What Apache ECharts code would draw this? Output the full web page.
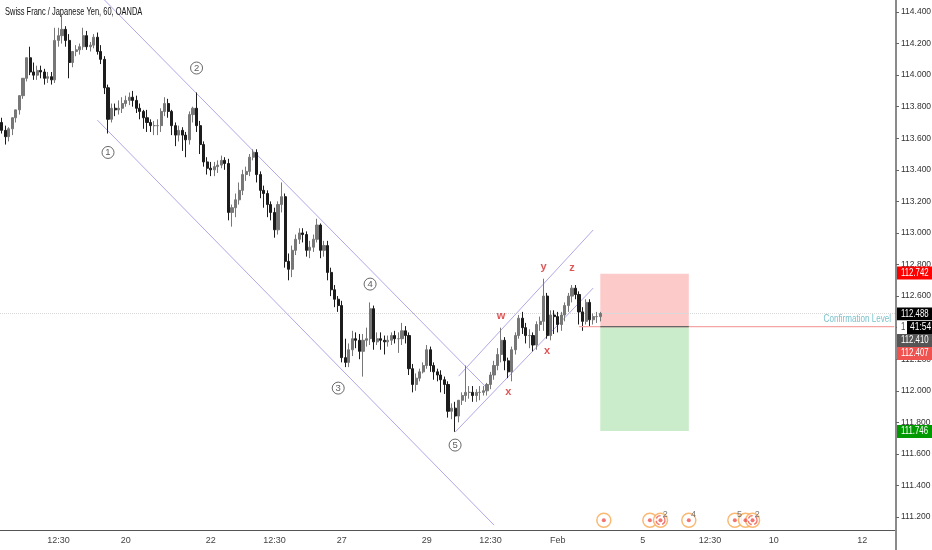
<!DOCTYPE html>
<html><head><meta charset="utf-8">
<style>html,body{margin:0;padding:0;background:#fff}#c{width:932px;height:550px}</style>
<script src="https://cdn.jsdelivr.net/npm/echarts@6/dist/echarts.min.js"></script>
</head><body><div id="c"></div>
<script>
const opens=[113.70,113.65,113.61,113.66,113.73,113.78,113.87,113.98,114.11,114.02,
114.00,114.03,114.02,113.98,113.99,113.97,114.22,114.25,114.29,114.22,
114.08,114.15,114.16,114.18,114.25,114.18,114.19,114.24,114.15,114.10,
113.92,113.72,113.79,113.78,113.79,113.82,113.84,113.86,113.84,113.79,
113.77,113.73,113.70,113.68,113.68,113.68,113.77,113.82,113.77,113.68,
113.62,113.65,113.62,113.59,113.75,113.79,113.68,113.56,113.45,113.41,
113.40,113.42,113.43,113.46,113.44,113.13,113.16,113.21,113.27,113.37,
113.39,113.48,113.51,113.37,113.27,113.25,113.18,113.13,113.02,113.18,
113.23,112.82,112.77,112.89,112.96,113.00,112.99,112.89,112.91,112.96,
113.05,112.89,112.92,112.75,112.64,112.58,112.54,112.21,112.18,112.26,
112.33,112.32,112.25,112.32,112.33,112.52,112.31,112.33,112.32,112.31,
112.32,112.35,112.33,112.33,112.38,112.35,112.14,112.04,112.08,112.12,
112.16,112.26,112.16,112.12,112.10,112.07,112.04,111.87,111.89,111.84,
111.94,111.97,111.99,111.99,111.97,111.99,111.99,112.00,112.04,112.10,
112.16,112.23,112.32,112.19,112.12,112.26,112.35,112.46,112.40,112.35,
112.35,112.29,112.42,112.44,112.60,112.35,112.48,112.47,112.42,112.48,
112.54,112.60,112.65,112.61,112.50,112.44,112.56,112.45,112.47,112.47];
const closes=[113.65,113.61,113.66,113.73,113.78,113.87,113.98,114.11,114.02,114.00,
114.03,114.02,113.98,113.99,113.97,114.22,114.25,114.29,114.22,114.08,
114.15,114.16,114.18,114.25,114.18,114.19,114.24,114.15,114.10,113.92,
113.72,113.79,113.78,113.79,113.82,113.84,113.86,113.84,113.79,113.77,
113.73,113.70,113.68,113.68,113.68,113.77,113.82,113.77,113.68,113.62,
113.65,113.62,113.59,113.75,113.79,113.68,113.56,113.45,113.41,113.40,
113.42,113.43,113.46,113.44,113.13,113.16,113.21,113.27,113.37,113.39,
113.48,113.51,113.37,113.27,113.25,113.18,113.13,113.02,113.18,113.23,
112.82,112.77,112.89,112.96,113.00,112.99,112.89,112.91,112.96,113.05,
112.89,112.92,112.75,112.64,112.58,112.54,112.21,112.18,112.26,112.33,
112.32,112.25,112.32,112.33,112.52,112.31,112.33,112.32,112.31,112.32,
112.35,112.33,112.33,112.38,112.35,112.14,112.04,112.08,112.12,112.16,
112.26,112.16,112.12,112.10,112.07,112.04,111.87,111.89,111.84,111.94,
111.97,111.99,111.99,111.97,111.99,111.99,112.00,112.04,112.10,112.16,
112.23,112.32,112.19,112.12,112.26,112.35,112.46,112.40,112.35,112.35,
112.29,112.42,112.44,112.60,112.35,112.48,112.47,112.42,112.48,112.54,
112.60,112.65,112.61,112.50,112.44,112.56,112.45,112.47,112.47,112.49];
const highs=[113.73,113.68,113.67,113.72,113.78,113.82,113.90,114.03,114.18,114.08,
114.06,114.06,114.04,114.02,114.02,114.30,114.30,114.38,114.31,114.26,
114.14,114.19,114.20,114.30,114.28,114.21,114.26,114.27,114.19,114.12,
113.94,113.82,113.82,113.84,113.86,113.87,113.89,113.90,113.87,113.82,
113.78,113.78,113.72,113.71,113.72,113.79,113.86,113.85,113.78,113.70,
113.68,113.67,113.64,113.77,113.80,113.89,113.71,113.58,113.48,113.45,
113.45,113.46,113.49,113.48,113.47,113.18,113.25,113.32,113.40,113.42,
113.50,113.53,113.53,113.39,113.30,113.27,113.20,113.16,113.20,113.32,
113.25,112.87,112.92,112.99,113.03,113.03,113.01,112.95,112.99,113.09,
113.06,112.95,112.95,112.78,112.67,112.60,112.57,112.33,112.30,112.38,
112.37,112.36,112.36,112.40,112.56,112.54,112.37,112.37,112.35,112.35,
112.37,112.38,112.37,112.43,112.41,112.37,112.17,112.11,112.14,112.18,
112.29,112.28,112.18,112.14,112.13,112.09,112.06,111.92,111.93,111.87,
111.99,112.16,112.03,112.03,112.01,112.03,112.03,112.05,112.12,112.19,
112.27,112.40,112.34,112.21,112.28,112.37,112.48,112.50,112.43,112.39,
112.37,112.44,112.47,112.71,112.62,112.51,112.51,112.50,112.50,112.56,
112.62,112.67,112.67,112.63,112.53,112.58,112.58,112.49,112.50,112.50];
const lows=[113.63,113.56,113.58,113.62,113.70,113.75,113.85,113.96,114.00,113.97,
113.97,113.98,113.94,113.95,113.94,113.95,114.18,114.20,114.18,113.98,
114.05,114.12,114.13,114.16,114.16,114.15,114.17,114.13,114.07,113.88,
113.63,113.70,113.74,113.75,113.76,113.80,113.81,113.80,113.76,113.72,
113.66,113.64,113.64,113.62,113.62,113.64,113.74,113.73,113.62,113.55,
113.58,113.52,113.48,113.56,113.70,113.64,113.50,113.42,113.37,113.36,
113.36,113.38,113.41,113.40,113.08,113.04,113.10,113.18,113.24,113.33,
113.36,113.46,113.32,113.22,113.16,113.10,113.08,112.97,112.99,113.13,
112.78,112.70,112.72,112.86,112.93,112.94,112.85,112.84,112.88,112.94,
112.84,112.85,112.70,112.60,112.53,112.50,112.18,112.15,112.15,112.22,
112.27,112.20,112.09,112.28,112.29,112.26,112.29,112.26,112.23,112.28,
112.29,112.30,112.24,112.29,112.30,112.10,111.99,112.00,112.06,112.11,
112.14,112.12,112.07,112.06,111.99,111.98,111.83,111.82,111.74,111.80,
111.91,111.93,111.95,111.93,111.93,111.94,111.97,111.97,112.01,112.07,
112.13,112.18,112.13,112.08,112.06,112.23,112.33,112.36,112.30,112.27,
112.25,112.26,112.38,112.38,112.33,112.32,112.36,112.37,112.38,112.44,
112.50,112.56,112.58,112.42,112.38,112.42,112.41,112.42,112.43,112.44];

const BAR_SLOTS=253;
const tickSlots=[16,35,59,77,96,120,138,157,181,200,218,243];
const tickNames=['12:30','20','22','12:30','27','29','12:30','Feb','5','12:30','10','12'];
const priceTicks=[111.2,111.4,111.6,111.8,112.0,112.2,112.4,112.6,112.8,113.0,113.2,113.4,113.6,113.8,114.0,114.2,114.4];

const channelUpper=[[29,114.476],[137,112.017]];
const channelLower=[[27,113.715],[139,111.149]];
const riseUpper=[[129,112.093],[167,113.019]];
const riseLower=[[128,111.738],[167,112.651]];

const waveNumbers=[[30,113.51,'1'],[55,114.045,'2'],[95,112.017,'3'],[104,112.676,'4'],[128,111.656,'5']];
const waveLetters=[[141,112.474,'w'],[143,111.992,'x'],[153,112.784,'y'],[154,112.252,'x'],[161,112.778,'z']];

const lastPrice=112.488, entry=112.407, stop=112.742, target=111.746;
const posStart=169, posEnd=194, levelStart=163, levelEnd=252;

const eventSlots=[170,183,186,194,207,210,212];
const eventCounts=['','','2','4','5','','2'];
const eventLevel=111.18;
const eventBroken=[186,212];

const tagRows=[['112.742',266.5,'#ff0000'],['112.488',307.5,'#000000'],['112.410',334,'#555555'],['112.407',347,'#f0524f'],['111.746',425,'#009a00']];
const countdown='41:54', countdownStub='1';

const SANS='"Liberation Sans",Arial,sans-serif';
const cats=Array.from({length:BAR_SLOTS},(_,i)=>{const k=tickSlots.indexOf(i);return k>=0?tickNames[k]:'';});
const candles=closes.map((c,i)=>[opens[i],c,lows[i],highs[i]]);
const trendStyle={color:'#b0a8e8',width:1};
const trend=d=>({type:'line',data:d,symbol:'none',silent:true,lineStyle:trendStyle,z:3,animation:false});
const tickShown=(i,v)=>v!=='';
const squeezed=(t,x,y,fill,size,sx,align,z)=>({type:'text',silent:true,z:z||21,x,y,scaleX:sx,style:{text:t,fill,align:align||'left',verticalAlign:'middle',font:size+'px '+SANS}});

const chart=echarts.init(document.getElementById('c'),null,{renderer:'canvas'});
chart.setOption({
 animation:false,
 backgroundColor:'#fff',
 grid:{left:0,right:36,top:0,bottom:20,outerBoundsMode:'none',containLabel:false},
 xAxis:{type:'category',data:cats,boundaryGap:true,
  axisLine:{lineStyle:{color:'#555',width:1}},
  axisTick:{alignWithLabel:true,interval:tickShown,length:3,lineStyle:{color:'#555'}},
  axisLabel:{interval:tickShown,fontFamily:SANS,fontSize:9,color:'#444',margin:6,hideOverlap:false},
  splitLine:{show:false}},
 yAxis:{type:'value',position:'right',min:111.118,max:114.476,scale:true,
  axisLine:{show:true,onZero:false,lineStyle:{color:'#8a8a8a',width:2}},
  axisTick:{show:true,inside:false,length:3,customValues:priceTicks,lineStyle:{color:'#666'}},
  axisLabel:{customValues:priceTicks,formatter:v=>v.toFixed(3),fontFamily:SANS,fontSize:8.5,color:'#333',margin:5},
  splitLine:{show:false}},
 series:[
  {type:'candlestick',data:candles,barWidth:2.6,z:4,silent:true,
   itemStyle:{color:'#777',color0:'#1c1c1c',borderColor:'#777',borderColor0:'#1c1c1c',borderWidth:1},
   markArea:{silent:true,z:1,data:[
     [{coord:[posStart,stop],itemStyle:{color:'#fdcaca'}},{coord:[posEnd,entry]}],
     [{coord:[posStart,entry],itemStyle:{color:'#cbeccb'}},{coord:[posEnd,target]}]]},
   markLine:{silent:true,symbol:'none',label:{show:false},z:1,
     lineStyle:{color:'#d8d8d8',type:'dotted',width:1},data:[{yAxis:lastPrice}]}},
  trend(channelUpper),trend(channelLower),trend(riseUpper),trend(riseLower),
  {type:'line',data:[[levelStart,entry],[levelEnd,entry]],symbol:'none',silent:true,z:5,lineStyle:{color:'#f6a5a5',width:1.2}},
  {type:'line',data:[[posStart,entry],[posEnd,entry]],symbol:'none',silent:true,z:6,lineStyle:{color:'#666',width:1.2}},
  {type:'scatter',data:waveNumbers,symbol:'circle',symbolSize:12,silent:true,z:7,
   itemStyle:{color:'#fff',borderColor:'#444',borderWidth:1},
   label:{show:true,position:'inside',formatter:p=>p.value[2],fontFamily:SANS,fontSize:9.5,color:'#333'}},
  {type:'scatter',data:waveLetters,symbolSize:1,silent:true,z:7,itemStyle:{color:'rgba(0,0,0,0)'},
   label:{show:true,position:'inside',formatter:p=>p.value[2],fontFamily:SANS,fontWeight:'bold',fontSize:11,color:'#d62c2c'}},
  {type:'scatter',data:eventSlots.map((s,i)=>[s,eventLevel,eventCounts[i]]),symbolSize:14,silent:true,z:8,clip:false,
   itemStyle:{color:'#fff',borderColor:'#f7a850',borderWidth:1.5},
   label:{show:true,position:[10,-2],formatter:p=>p.value[2],fontFamily:SANS,fontSize:9,color:'#555'}},
  {type:'scatter',data:eventBroken.map(s=>[s,eventLevel]),symbolSize:9,silent:true,z:9,
   itemStyle:{color:'rgba(0,0,0,0)',borderColor:'#f0524f',borderWidth:1.3,borderType:'dashed'}},
  {type:'scatter',data:eventSlots.map(s=>[s,eventLevel]),symbolSize:4,silent:true,z:10,itemStyle:{color:'#f0524f'}}
 ],
 graphic:[
  {type:'line',silent:true,z:20,shape:{x1:896,y1:530,x2:896,y2:550},style:{stroke:'#8a8a8a',lineWidth:2}},
  squeezed('Swiss Franc / Japanese Yen, 60, OANDA',5,12,'#111',11,0.68,'left',20),
  squeezed('Confirmation Level',891,319,'#7cc2cc',10.5,0.77,'right',20),
  ...tagRows.flatMap(([t,y,c])=>[
   {type:'rect',silent:true,z:20,shape:{x:897,y:y,width:35,height:13},style:{fill:c}},
   squeezed(t,901,y+6.5,'#fff',10,0.78)]),
  {type:'rect',silent:true,z:20,shape:{x:897,y:320.5,width:35,height:13.5},style:{fill:'#fff'}},
  squeezed(countdownStub,901,327.5,'#444',10,0.78),
  {type:'rect',silent:true,z:20,shape:{x:907,y:321,width:25,height:13},style:{fill:'#000'}},
  squeezed(countdown,910,327.5,'#fff',10,0.85)
 ]
});
</script></body></html>
